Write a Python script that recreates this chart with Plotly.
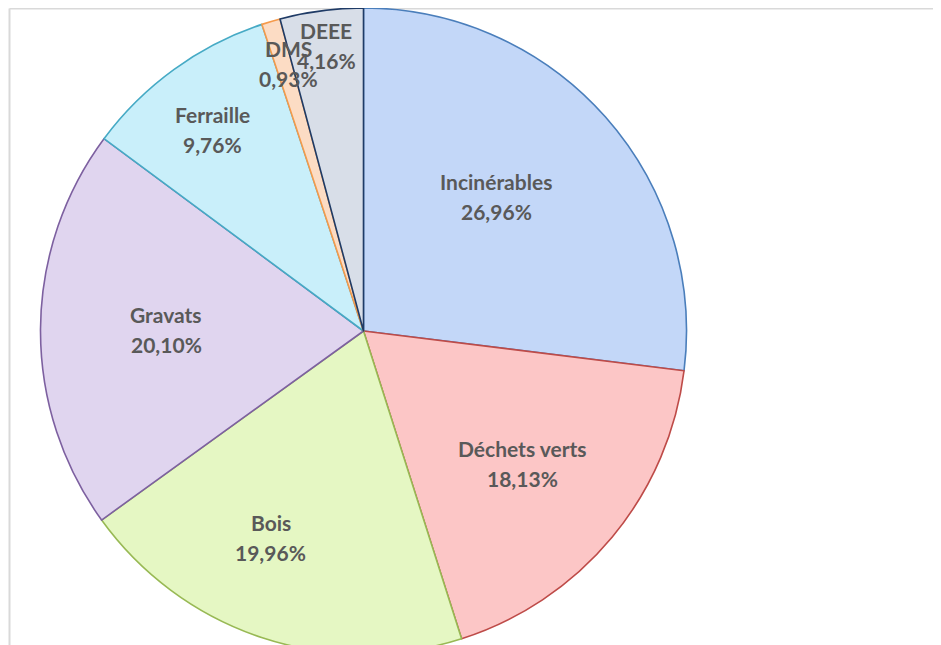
import math
import plotly.graph_objects as go

# ---- data ----
categories = ["Incinérables", "Déchets verts", "Bois", "Gravats", "Ferraille", "DMS", "DEEE"]
shares = [26.96, 18.13, 19.96, 20.10, 9.76, 0.93, 4.16]
pct_labels = ["26,96%", "18,13%", "19,96%", "20,10%", "9,76%", "0,93%", "4,16%"]

# ---- style ----
fill_colors = ["#c3d7f8", "#fcc6c6", "#e5f7c3", "#e0d5ef", "#c9effa", "#fcdcc4", "#d8dee8"]
line_colors = ["#4a7ebb", "#be4b48", "#98b954", "#7d60a0", "#46aac5", "#f59a4b", "#1f3b66"]
label_radius = [0.585, 0.64, 0.70, 0.61, 0.78, 0.86, 0.89]   # fraction of radius
label_nudge = [-4, 0, 6, 0, -1, 1, 0]                          # degrees
W, H = 941, 660
ML, MR, MT, MB = 0, 0, 0, 0
CX, CY, R = 355.5, 323.0, 323.0
PW, PH = W - ML - MR, H - MT - MB

fig = go.Figure(go.Pie(
    labels=categories,
    values=shares,
    sort=False,
    direction="clockwise",
    rotation=0,
    textinfo="none",
    hoverinfo="skip",
    marker=dict(colors=fill_colors, line=dict(color=line_colors, width=1.6)),
    domain=dict(x=[(CX - R - ML) / PW, (CX + R - ML) / PW],
                y=[1 - (CY + R - MT) / PH, 1 - (CY - R - MT) / PH]),
    showlegend=False,
))

ann = []
total = sum(shares)
cum = 0.0
for cat, v, pl, rf, nd in zip(categories, shares, pct_labels, label_radius, label_nudge):
    mid = (cum + v / 2) / total * 360 + nd
    cum += v
    a = math.radians(mid)
    px = CX + rf * R * math.sin(a)
    py = CY - rf * R * math.cos(a)
    for txt, off in ((cat, -15), (pl, 15)):
        ann.append(dict(
            x=(px - ML) / PW, y=1 - (py + off - MT) / PH,
            xref="paper", yref="paper", text=txt, showarrow=False,
            xanchor="center", yanchor="middle",
            font=dict(family="Lato", size=21, color="#595959", weight="bold"),
        ))

frame = "#d9d9d9"
fy = 1 - (0.5 - MT) / PH
fx = (1.5 - ML) / PW
shapes = [
    dict(type="line", xref="paper", yref="paper", x0=fx, x1=1.01,
         y0=fy, y1=fy, line=dict(color=frame, width=2), layer="below"),
    dict(type="line", xref="paper", yref="paper", x0=fx, x1=fx,
         y0=fy, y1=-0.02, line=dict(color=frame, width=2), layer="below"),
]

fig.update_layout(
    width=W, height=H,
    margin=dict(l=ML, r=MR, t=MT, b=MB),
    paper_bgcolor="white", plot_bgcolor="white",
    annotations=ann, shapes=shapes,
)
fig.write_html("out.html")
